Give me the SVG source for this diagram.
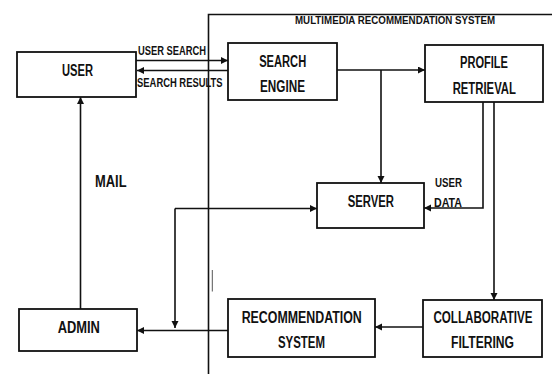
<svg xmlns="http://www.w3.org/2000/svg" width="552" height="374" viewBox="0 0 552 374">
  <style>
    .box { fill: #fff; stroke: #111; stroke-width: 1.8; }
    .line { fill: none; stroke: #111; stroke-width: 1.6; }
    .arrow { fill: none; stroke: #111; stroke-width: 1.6; marker-end: url(#head); }
    .t { font-family: "Liberation Sans", Arial, sans-serif; font-weight: bold; fill: #111; text-anchor: middle; }
    .big { font-size: 16px; }
    .small { font-size: 13px; }
    .title { font-size: 10.5px; }
  </style>
  <defs>
    <marker id="head" markerUnits="userSpaceOnUse" markerWidth="8" markerHeight="8" refX="7" refY="3.5" orient="auto">
      <path d="M0,0 L7,3.5 L0,7 z" fill="#111"/>
    </marker>
  </defs>

  <!-- system boundary -->
  <g id="boundary">
    <path class="line" d="M208.5,374 V14.5 H552"/>
    <line x1="212.3" y1="270" x2="212.3" y2="291.5" stroke="#555" stroke-width="1"/>
    <text class="t title" x="395" y="24.3" textLength="200" lengthAdjust="spacingAndGlyphs">MULTIMEDIA RECOMMENDATION SYSTEM</text>
  </g>

  <!-- connectors -->
  <g id="connectors">
    <line class="arrow" x1="136" y1="60.5" x2="228" y2="60.5"/>
    <line class="arrow" x1="228" y1="70.5" x2="137" y2="70.5"/>
    <line class="arrow" x1="337" y1="70" x2="425" y2="70"/>
    <line class="arrow" x1="381" y1="70" x2="381" y2="183"/>
    <path class="arrow" d="M483,102 V208 H424"/>
    <line class="arrow" x1="494" y1="102" x2="494" y2="300"/>
    <line class="arrow" x1="423" y1="327" x2="375" y2="327"/>
    <line class="arrow" x1="228" y1="330.5" x2="137" y2="330.5"/>
    <line class="arrow" x1="175" y1="208.5" x2="317" y2="208.5"/>
    <line class="arrow" x1="175" y1="208.5" x2="175" y2="328"/>
    <line class="arrow" x1="80.5" y1="309" x2="80.5" y2="97"/>

    <text class="t small" x="172" y="55" textLength="68" lengthAdjust="spacingAndGlyphs">USER SEARCH</text>
    <text class="t small" x="179.8" y="87.3" textLength="85.5" lengthAdjust="spacingAndGlyphs">SEARCH RESULTS</text>
    <text class="t small" x="448.5" y="187" textLength="27" lengthAdjust="spacingAndGlyphs">USER</text>
    <text class="t small" x="448" y="206.7" textLength="28" lengthAdjust="spacingAndGlyphs">DATA</text>
    <text class="t big" x="110.8" y="186.7" textLength="31.5" lengthAdjust="spacingAndGlyphs">MAIL</text>
  </g>

  <g id="user">
    <rect class="box" x="17" y="52" width="119" height="45"/>
    <text class="t big" x="77.5" y="76" textLength="31" lengthAdjust="spacingAndGlyphs">USER</text>
  </g>

  <g id="search-engine">
    <rect class="box" x="228" y="43" width="109" height="57"/>
    <text class="t big" x="282.7" y="67" textLength="47" lengthAdjust="spacingAndGlyphs">SEARCH</text>
    <text class="t big" x="282.5" y="92.3" textLength="45" lengthAdjust="spacingAndGlyphs">ENGINE</text>
  </g>

  <g id="profile-retrieval">
    <rect class="box" x="425" y="45" width="118" height="57"/>
    <text class="t big" x="484" y="68" textLength="48" lengthAdjust="spacingAndGlyphs">PROFILE</text>
    <text class="t big" x="484.3" y="94" textLength="63.3" lengthAdjust="spacingAndGlyphs">RETRIEVAL</text>
  </g>

  <g id="server">
    <rect class="box" x="317" y="183" width="107" height="45"/>
    <text class="t big" x="370.8" y="206.7" textLength="46.3" lengthAdjust="spacingAndGlyphs">SERVER</text>
  </g>

  <g id="admin">
    <rect class="box" x="19" y="309" width="118" height="42"/>
    <text class="t big" x="78.8" y="333" textLength="42.3" lengthAdjust="spacingAndGlyphs">ADMIN</text>
  </g>

  <g id="recommendation-system">
    <rect class="box" x="228" y="299" width="147" height="58"/>
    <text class="t big" x="301.7" y="323" textLength="120" lengthAdjust="spacingAndGlyphs">RECOMMENDATION</text>
    <text class="t big" x="301.5" y="348" textLength="47" lengthAdjust="spacingAndGlyphs">SYSTEM</text>
  </g>

  <g id="collaborative-filtering">
    <rect class="box" x="423" y="300" width="119" height="57"/>
    <text class="t big" transform="translate(483,323) scale(0.726,1)">COLLABORATIVE</text>
    <text class="t big" x="482.5" y="348" textLength="63" lengthAdjust="spacingAndGlyphs">FILTERING</text>
  </g>
</svg>
